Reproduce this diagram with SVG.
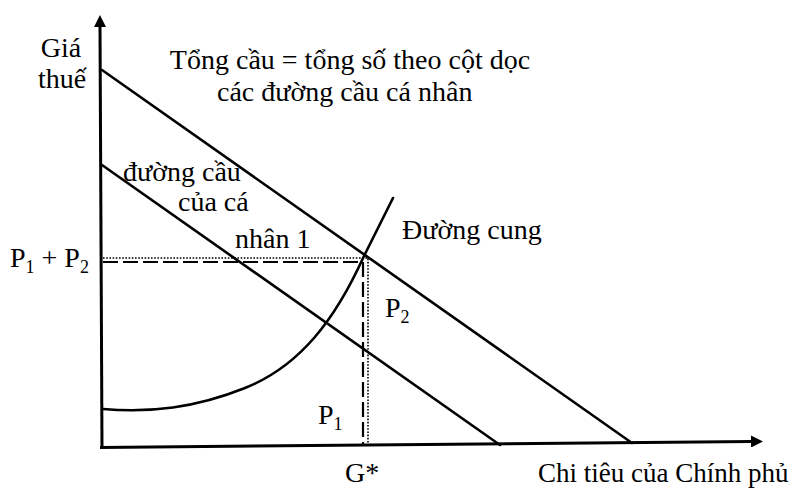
<svg xmlns="http://www.w3.org/2000/svg" width="799" height="492" viewBox="0 0 799 492">
<style>
.ax{stroke:#000;stroke-width:3;fill:none}
.ln{stroke:#000;stroke-width:2.6;fill:none;stroke-linecap:round}
.dash{stroke:#000;stroke-width:2.2;fill:none;stroke-dasharray:15 5}
.dot{stroke:#000;stroke-width:1.6;fill:none;stroke-dasharray:1.6 1.6}
text{font-family:"Liberation Serif","Times New Roman",serif;font-size:28px;fill:#000}
.sub{font-size:18px}
</style>
<defs>
<marker id="arr" viewBox="0 0 12 12" refX="1" refY="6" markerWidth="12" markerHeight="12" markerUnits="userSpaceOnUse" orient="auto">
<path d="M0,0 L12,6 L0,12 Z" fill="#000"/>
</marker>
</defs>
<rect width="799" height="492" fill="#fff"/>
<g id="connectors">
<g id="axes">
<line class="ax" x1="102" y1="447" x2="100" y2="26" marker-end="url(#arr)"/>
<line class="ax" x1="100" y1="447.5" x2="752" y2="441.5" marker-end="url(#arr)"/>
</g>
<g id="guides">
<polyline class="dash" points="103,262 363,262 363,446"/>
<polyline class="dot" points="103,258 368,258 368,446"/>
</g>
<g id="demand-total"><line class="ln" x1="102" y1="70" x2="632" y2="443"/></g>
<g id="demand-individual"><line class="ln" x1="102" y1="165" x2="500" y2="445"/></g>
<g id="supply"><path class="ln" d="M103,409 C150,413 195,408 245,388 C300,366 335,320 364,256 L393,198"/></g>
</g>
<g id="labels">
<g id="label-y"><text x="61" y="57" text-anchor="middle">Giá</text><text x="62" y="88" text-anchor="middle">thuế</text></g>
<g id="label-total"><text x="350" y="69" text-anchor="middle">Tổng cầu = tổng số theo cột dọc</text><text x="217" y="101">các đường cầu cá nhân</text></g>
<g id="label-individual"><text x="123" y="181">đường cầu</text><text x="178" y="211">của cá</text><text x="235" y="248">nhân 1</text></g>
<g id="label-supply"><text x="402" y="239">Đường cung</text></g>
<g id="label-p1p2"><text x="10" y="267">P<tspan class="sub" dy="6">1</tspan><tspan dy="-6"> + P</tspan><tspan class="sub" dy="6">2</tspan></text></g>
<g id="label-p2"><text x="385" y="317">P<tspan class="sub" dy="6">2</tspan></text></g>
<g id="label-p1"><text x="318" y="424">P<tspan class="sub" dy="6">1</tspan></text></g>
<g id="label-g"><text x="345" y="482">G*</text></g>
<g id="label-x"><text x="538" y="482" style="font-size:27px">Chi tiêu của Chính phủ</text></g>
</g>
</svg>
